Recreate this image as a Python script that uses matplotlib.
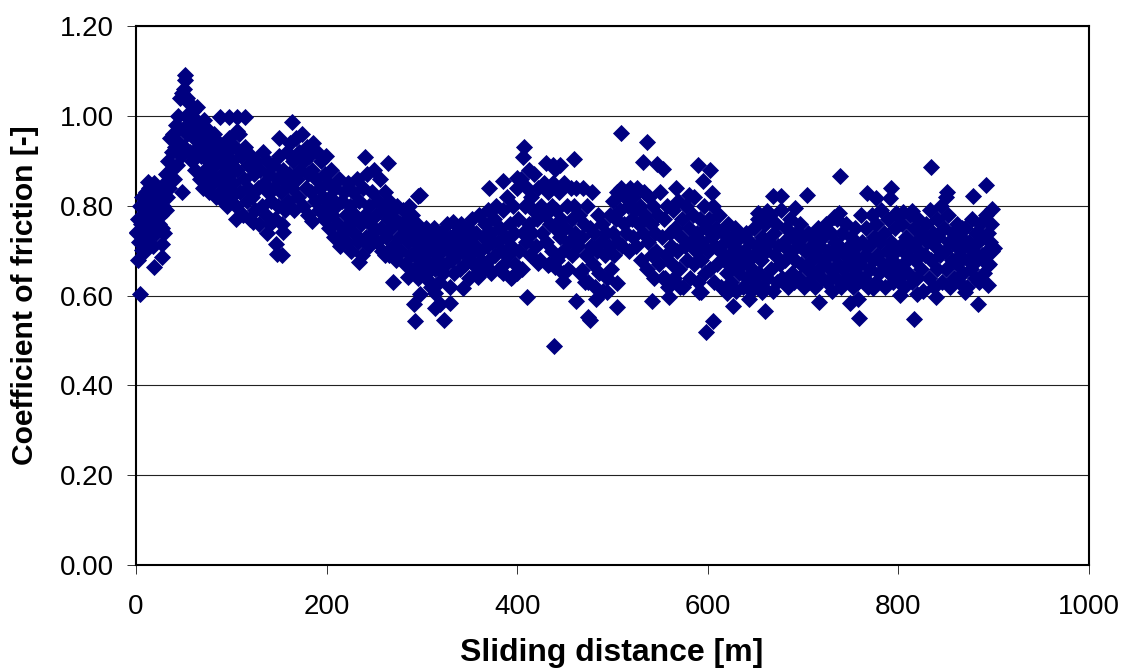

import matplotlib
matplotlib.use('Agg')
import matplotlib.pyplot as plt

plt.rcParams['font.family'] = ['Liberation Sans', 'DejaVu Sans']

# --- Points read one by one (isolated diamonds around the band) ---
isolated = [
    (4, .603), (51, 1.091), (51, 1.08), (164, .986), (88, .998), (98, .998), (106, .998), (114, .998),
    (106, .966), (150, .951), (264, .895), (240, .909), (296, .822), (293, .543), (292, .581), (298, .604),
    (270, .630), (285, .642), (234, .675), (266, .694), (261, .690), (153, .690), (148, .692), (147, .715),
    (137, .739), (154, .742), (123, .764), (105, .770), (185, .766), (19, .664), (2, .680), (27, .686),
    (27, .715), (6, .702), (11, .719), (1, .742), (27, .75), (48, .83), (13, .853),
    (509, .962), (536, .942), (407, .931), (406, .909), (460, .904), (430, .895), (438, .89), (445, .891),
    (440, .882), (532, .898), (547, .893), (553, .882), (590, .891), (602, .88), (595, .855), (604, .829),
    (567, .84), (580, .824), (370, .84), (385, .855), (412, .88), (400, .862), (298, .824), (333, .764),
    (343, .617), (329, .583), (319, .581), (314, .572), (323, .546), (314, .606), (438.6, .488), (410, .597),
    (462, .588), (483, .592), (505, .575), (474, .552), (476, .546), (541, .588), (559, .597), (591, .608),
    (598, .519), (605, .543), (494, .608), (448, .632), (471, .63), (448, .65), (468, .657), (505, .628),
    (571, .619), (555, .639), (359, .642), (371, .657), (395, .642), (385, .65), (400, .65), (422, .672),
    (432, .668), (440, .664), (308, .63),
    (834, .887), (739, .866), (892, .846), (878, .822), (851, .831), (850, .82), (792, .84), (791, .817),
    (777, .817), (767, .828), (704, .824), (668, .822), (677, .822), (691, .795), (898, .793), (653, .784),
    (662, .788), (738, .784), (732, .775), (798, .784), (805, .786), (814, .788), (884, .581), (816, .548),
    (759, .55), (717, .586), (749, .583), (758, .592), (660, .566), (626, .577), (643, .592), (657, .608),
    (620, .606), (802, .601), (820, .604), (839, .597), (870, .608), (773, .617), (593, .608), (900, .706),
    (894, .668), (894, .624), (867, .75),
]

# --- Dense band, estimated stretch by stretch ---
band_0_50 = [
    (1, .74), (2, .77), (3, .72), (4, .80), (5, .76), (6, .82), (6, .74), (8, .78), (9, .70), (10, .83),
    (11, .76), (12, .80), (13, .73), (14, .84), (15, .79), (16, .75), (17, .81), (18, .71), (19, .85), (20, .77),
    (21, .74), (22, .82), (23, .79), (24, .76), (25, .83), (26, .78), (28, .80), (29, .74), (30, .85), (31, .79),
    (32, .87), (33, .82), (34, .90), (35, .84), (36, .95), (37, .88), (38, .92), (39, .96), (40, .86), (41, .93),
    (42, .98), (43, .89), (44, 1.0), (45, .94), (46, 1.04), (47, .91), (48, 1.05), (49, .97), (50, 1.06), (50, .93),
]
band_50_100 = [
    (52, 1.00), (53, 1.04), (54, .96), (55, 1.03), (57, .92), (58, .98), (59, .90), (60, 1.01), (61, .95),
    (62, .88), (63, .99), (64, 1.02), (65, .93), (66, .97), (67, .86), (68, .91), (69, .95), (70, .84), (71, .99),
    (72, .88), (73, .93), (74, .85), (75, .97), (76, .90), (77, .83), (78, .94), (79, .87), (80, .92), (81, .85),
    (82, .96), (83, .89), (84, .82), (85, .91), (86, .86), (87, .94), (88, .83), (89, .90), (90, .87), (91, .81),
    (92, .93), (93, .85), (94, .89), (95, .80), (96, .92), (97, .84), (98, .95), (99, .87), (100, .82),
]
band_100_200 = [
    (101, .90), (102, .85), (104, .93), (105, .80), (106, .88), (108, .96), (109, .83), (110, .91), (112, .78),
    (113, .86), (114, .93), (116, .81), (117, .89), (118, .84), (120, .77), (121, .91), (122, .82), (124, .87),
    (125, .79), (126, .90), (128, .84), (129, .76), (130, .88), (132, .80), (133, .92), (134, .85), (136, .78),
    (137, .90), (138, .83), (140, .87), (141, .76), (142, .81), (144, .89), (145, .84), (146, .77), (148, .86),
    (149, .80), (150, .91), (152, .83), (153, .76), (154, .88), (156, .79), (157, .85), (158, .92), (160, .81),
    (161, .87), (162, .94), (164, .84), (165, .90), (166, .79), (168, .95), (169, .86), (170, .82), (171, .92),
    (172, .88), (174, .96), (175, .80), (176, .90), (178, .84), (179, .93), (180, .87), (181, .78), (182, .91),
    (184, .83), (185, .88), (186, .94), (188, .81), (189, .86), (190, .92), (192, .79), (193, .84), (194, .90),
    (196, .82), (197, .77), (198, .87), (199, .91), (200, .80),
]
band_200_300 = [
    (201, .85), (202, .75), (204, .82), (205, .88), (206, .78), (208, .73), (209, .84), (210, .80), (212, .76),
    (213, .86), (214, .71), (216, .81), (217, .74), (218, .83), (220, .78), (221, .72), (222, .85), (224, .76),
    (225, .80), (226, .70), (228, .83), (229, .74), (230, .78), (232, .86), (233, .72), (234, .81), (236, .76),
    (237, .69), (238, .84), (240, .78), (241, .73), (242, .87), (244, .80), (245, .71), (246, .76), (248, .83),
    (249, .74), (250, .88), (252, .78), (253, .72), (254, .81), (256, .86), (257, .75), (258, .70), (260, .79),
    (261, .83), (262, .73), (264, .77), (265, .69), (266, .81), (268, .75), (269, .79), (270, .71), (272, .77),
    (273, .68), (274, .80), (276, .73), (277, .76), (278, .70), (280, .79), (281, .74), (282, .67), (284, .77),
    (285, .72), (286, .80), (288, .75), (289, .69), (290, .78), (292, .66), (293, .73), (294, .70), (295, .76),
    (296, .64), (297, .71), (298, .68), (299, .74), (300, .66),
]
band_300_400 = [
    (301, .72), (302, .69), (304, .75), (305, .65), (306, .71), (308, .67), (309, .73), (310, .62), (312, .70),
    (313, .75), (314, .66), (316, .72), (317, .68), (318, .63), (320, .74), (321, .70), (322, .65), (324, .72),
    (325, .67), (326, .76), (328, .70), (329, .62), (330, .73), (332, .68), (333, .71), (334, .65), (336, .74),
    (337, .69), (338, .72), (340, .66), (341, .76), (342, .70), (344, .73), (345, .67), (346, .71), (348, .75),
    (349, .64), (350, .69), (352, .72), (353, .77), (354, .67), (356, .71), (357, .74), (358, .65), (360, .78),
    (361, .70), (362, .68), (364, .73), (365, .66), (366, .76), (368, .71), (369, .79), (370, .68), (372, .74),
    (373, .65), (374, .72), (376, .77), (377, .69), (378, .80), (380, .72), (381, .66), (382, .75), (384, .70),
    (385, .79), (386, .67), (388, .73), (389, .82), (390, .69), (392, .76), (393, .64), (394, .71), (396, .80),
    (397, .74), (398, .67), (400, .84),
]
band_400_500 = [
    (401, .77), (402, .70), (404, .86), (405, .66), (406, .74), (408, .80), (409, .72), (410, .84), (412, .76),
    (413, .69), (414, .82), (416, .74), (417, .79), (418, .87), (420, .71), (421, .77), (422, .84), (424, .68),
    (425, .80), (426, .74), (428, .85), (429, .78), (430, .72), (432, .83), (433, .67), (434, .76), (436, .80),
    (437, .70), (438, .85), (440, .75), (441, .79), (442, .68), (444, .83), (445, .73), (446, .77), (448, .70),
    (449, .85), (450, .75), (452, .80), (453, .66), (454, .72), (456, .84), (457, .77), (458, .69), (460, .80),
    (461, .74), (462, .84), (464, .71), (465, .78), (466, .65), (468, .73), (469, .84), (470, .76), (472, .69),
    (473, .80), (474, .63), (476, .75), (477, .71), (478, .83), (480, .67), (481, .74), (482, .62), (484, .70),
    (485, .78), (486, .65), (488, .72), (489, .76), (490, .61), (492, .69), (493, .74), (494, .64), (496, .71),
    (497, .78), (498, .66), (500, .74),
]
band_500_600 = [
    (501, .81), (502, .69), (504, .77), (505, .83), (506, .72), (508, .79), (509, .84), (510, .71), (512, .76),
    (513, .82), (514, .74), (516, .80), (517, .70), (518, .84), (520, .77), (521, .73), (522, .82), (524, .79),
    (525, .71), (526, .84), (528, .76), (529, .80), (530, .68), (532, .74), (533, .83), (534, .78), (536, .66),
    (537, .72), (538, .82), (540, .76), (541, .69), (542, .80), (544, .64), (545, .74), (546, .70), (548, .78),
    (549, .67), (550, .83), (552, .73), (553, .64), (554, .77), (556, .69), (557, .80), (558, .62), (560, .74),
    (561, .71), (562, .67), (564, .79), (565, .64), (566, .75), (568, .70), (569, .81), (570, .66), (572, .73),
    (573, .77), (574, .62), (576, .71), (577, .80), (578, .68), (580, .75), (581, .64), (582, .72), (584, .78),
    (585, .67), (586, .82), (588, .70), (589, .74), (590, .63), (592, .77), (593, .68), (594, .72), (596, .80),
    (597, .65), (598, .75), (600, .70),
]
band_600_700 = [
    (601, .77), (602, .66), (604, .73), (605, .80), (606, .63), (608, .71), (609, .75), (610, .67), (612, .78),
    (613, .70), (614, .62), (616, .74), (617, .68), (618, .72), (620, .65), (621, .76), (622, .69), (624, .63),
    (625, .73), (626, .67), (628, .71), (629, .75), (630, .61), (632, .69), (633, .65), (634, .73), (636, .67),
    (637, .62), (638, .70), (640, .74), (641, .64), (642, .68), (644, .72), (645, .61), (646, .66), (648, .75),
    (649, .69), (650, .63), (652, .71), (653, .77), (654, .65), (656, .68), (657, .73), (658, .62), (660, .76),
    (661, .70), (662, .64), (664, .72), (665, .78), (666, .66), (668, .61), (669, .74), (670, .69), (672, .76),
    (673, .63), (674, .71), (676, .67), (677, .79), (678, .64), (680, .72), (681, .68), (682, .75), (684, .62),
    (685, .70), (686, .77), (688, .65), (689, .73), (690, .63), (692, .68), (693, .74), (694, .71), (696, .64),
    (697, .76), (698, .67), (700, .73),
]
band_700_800 = [
    (701, .62), (702, .70), (704, .66), (705, .74), (706, .63), (708, .71), (709, .68), (710, .65), (712, .73),
    (713, .62), (714, .69), (716, .75), (717, .66), (718, .71), (720, .64), (721, .73), (722, .68), (724, .76),
    (725, .63), (726, .70), (728, .66), (729, .74), (730, .61), (732, .69), (733, .72), (734, .64), (736, .77),
    (737, .67), (738, .71), (740, .62), (741, .74), (742, .66), (744, .69), (745, .76), (746, .64), (748, .71),
    (749, .67), (750, .73), (752, .62), (753, .69), (754, .75), (756, .65), (757, .71), (758, .63), (760, .67),
    (761, .78), (762, .72), (764, .64), (765, .69), (766, .75), (768, .62), (769, .71), (770, .66), (772, .78),
    (773, .68), (774, .73), (776, .63), (777, .76), (778, .69), (780, .65), (781, .72), (782, .79), (784, .67),
    (785, .74), (786, .62), (788, .70), (789, .77), (790, .65), (792, .72), (793, .68), (794, .63), (796, .75),
    (797, .70), (798, .66), (800, .78),
]
band_800_900 = [
    (801, .64), (802, .71), (804, .76), (805, .67), (806, .62), (808, .73), (809, .69), (810, .65), (812, .78),
    (813, .71), (814, .63), (816, .75), (817, .68), (818, .72), (820, .64), (821, .77), (822, .70), (824, .66),
    (825, .74), (826, .61), (828, .69), (829, .76), (830, .72), (832, .64), (833, .79), (834, .68), (836, .74),
    (837, .62), (838, .71), (840, .77), (841, .66), (842, .73), (844, .69), (845, .80), (846, .63), (848, .75),
    (849, .70), (850, .66), (852, .78), (853, .72), (854, .62), (856, .68), (857, .74), (858, .64), (860, .71),
    (861, .67), (862, .76), (864, .63), (865, .69), (866, .73), (868, .65), (869, .71), (870, .75), (872, .62),
    (873, .68), (874, .72), (876, .66), (877, .77), (878, .70), (880, .64), (881, .74), (882, .68), (884, .72),
    (885, .63), (886, .76), (888, .69), (889, .73), (890, .65), (892, .78), (893, .70), (894, .74), (895, .67),
    (896, .72), (897, .76), (898, .70),
]

x_ticks = [0, 200, 400, 600, 800, 1000]
y_ticks = [0.0, 0.2, 0.4, 0.6, 0.8, 1.0, 1.2]

all_points = (isolated + band_0_50 + band_50_100 + band_100_200 + band_200_300 + band_300_400
              + band_400_500 + band_500_600 + band_600_700 + band_700_800 + band_800_900)
distance = [p[0] for p in all_points]
friction = [p[1] for p in all_points]

fig = plt.figure(figsize=(11.25, 6.71), dpi=100)
ax = fig.add_axes([136 / 1125, 1 - 565 / 671, (1089 - 136) / 1125, (565 - 26) / 671])

ax.scatter(distance, friction, marker='D', s=76, color='#000080', linewidths=0, zorder=3, clip_on=False)

ax.set_xlim(0, 1000)
ax.set_ylim(0, 1.2)
ax.set_xticks(x_ticks)
ax.set_yticks(y_ticks)
ax.set_yticklabels([f'{v:.2f}' for v in y_ticks])
ax.tick_params(axis='x', direction='out', length=6.5, width=0.7, color='#333333', labelsize=20, pad=14.5)
ax.tick_params(axis='y', direction='out', length=6.5, width=0.7, color='#333333', labelsize=20, pad=9.5)
ax.grid(True, axis='y', color='#222222', linewidth=0.8, zorder=1)
for spine in ax.spines.values():
    spine.set_linewidth(1.5)
    spine.set_zorder(2)

fig.text(612 / 1125, 1 - 653 / 671, 'Sliding distance [m]', fontsize=23, fontweight='bold',
         ha='center', va='center')
fig.text(25 / 1125, 1 - 295 / 671, 'Coefficient of friction [-]', fontsize=21.6, fontweight='bold',
         rotation=90, ha='center', va='center')

fig.savefig('out.png', dpi=100, facecolor='white')
plt.close(fig)
